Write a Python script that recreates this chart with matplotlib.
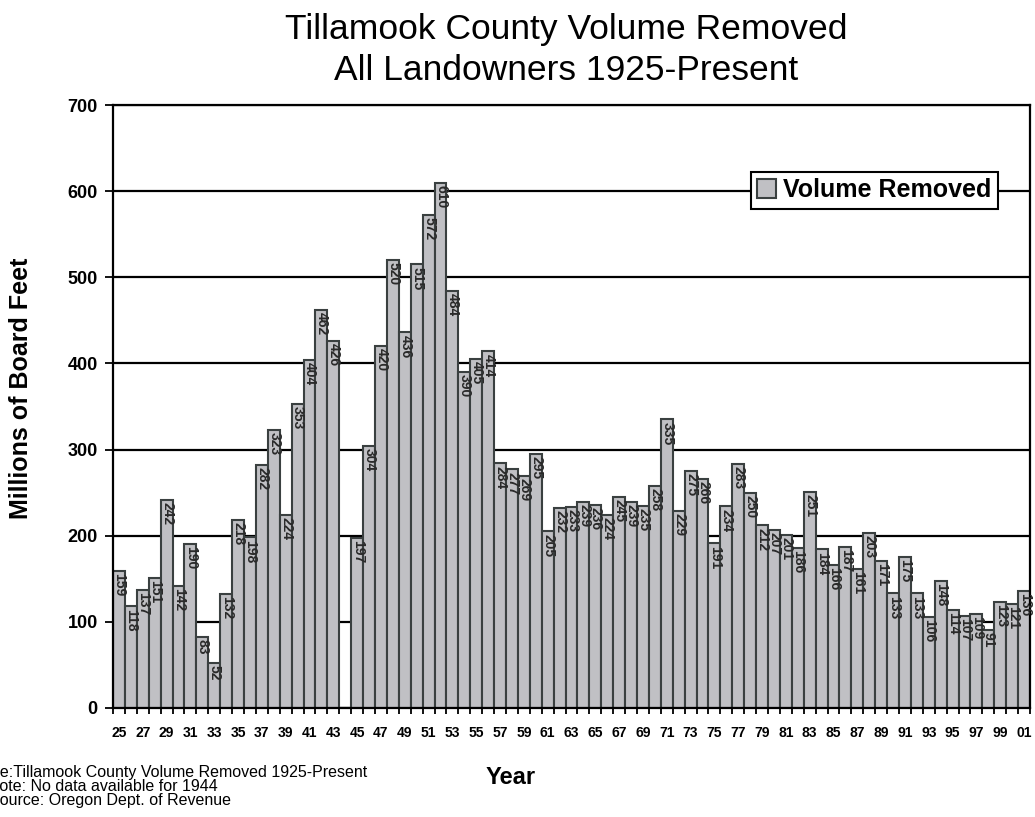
import numpy as np
import matplotlib.pyplot as plt

plt.rcParams['font.family'] = ['Liberation Sans', 'DejaVu Sans']

# timber volume removed, millions of board feet (no data for 1944)
years = list(range(1925, 2002))
volume = [159, 118, 137, 151, 242, 142, 190, 83, 52, 132,
          218, 198, 282, 323, 224, 353, 404, 462, 426, None,
          197, 304, 420, 520, 436, 515, 572, 610, 484, 390,
          405, 414, 284, 277, 269, 295, 205, 232, 233, 239,
          236, 224, 245, 239, 235, 258, 335, 229, 275, 266,
          191, 234, 283, 250, 212, 207, 201, 186, 251, 184,
          166, 187, 161, 203, 171, 133, 175, 133, 106, 148,
          114, 107, 109, 91, 123, 121, 136]
tick_years = years[::2]
notes = ["Title:Tillamook County Volume Removed 1925-Present",
         "Note: No data available for 1944",
         "Source: Oregon Dept. of Revenue"]

W, H = 1035, 817
fig = plt.figure(figsize=(W / 100, H / 100), dpi=100)
ax = fig.add_axes([113 / W, 1 - 708 / H, 917 / W, 603 / H])

x = np.arange(len(years))
vals = [v if v is not None else 0 for v in volume]
ax.bar(x, vals, width=1.0, color='#c0c0c4', edgecolor='#3a4040',
       linewidth=1.5, label='Volume Removed', zorder=2)
for xi, v in zip(x, volume):
    if v is None:
        continue
    ax.text(xi + 0.05, v - 2.5, str(v), rotation=270, ha='center', va='top',
            fontsize=10, fontweight='bold', color='#2a2a2a', zorder=3)

ax.set_xlim(-0.5, len(years) - 0.5)
ax.set_ylim(0, 700)
ax.set_yticks(range(0, 701, 100))
ax.yaxis.grid(True, color='black', linewidth=1.6, zorder=0)
ax.set_axisbelow(True)

ax.set_xticks([years.index(y) for y in tick_years])
ax.set_xticklabels(['%02d' % (y % 100) for y in tick_years])
ax.set_xticks(np.arange(-0.5, len(years), 1.0), minor=True)
ax.tick_params(axis='x', which='major', length=0, pad=13, labelsize=10)
ax.tick_params(axis='x', which='minor', length=4.3, width=1.3)
ax.tick_params(axis='y', length=6, width=1.3, labelsize=13, pad=5)
for lab in ax.get_xticklabels() + ax.get_yticklabels():
    lab.set_fontweight('bold')
for sp in ax.spines.values():
    sp.set_linewidth(1.6)

ax.set_ylabel('Millions of Board Feet', fontsize=18, fontweight='bold',
              va='center', ha='center')
ax.yaxis.set_label_coords((21 - 113) / 917, 0.53)
ax.set_xlabel('Year', fontsize=17, fontweight='bold')
ax.xaxis.set_label_coords((511 - 113) / 917, (708 - 778) / 603)
ax.xaxis.label.set_va('center')

leg = ax.legend(loc='upper right', bbox_to_anchor=((998 - 113) / 917, (708 - 172) / 603),
                prop={'size': 18, 'weight': 'bold'}, frameon=True,
                fancybox=False, framealpha=1, handlelength=0.76, handleheight=0.76,
                handletextpad=0.3, borderpad=0.25, borderaxespad=0)
leg.get_frame().set_edgecolor('black')
leg.get_frame().set_linewidth(1.5)

fig.suptitle('Tillamook County Volume Removed\nAll Landowners 1925-Present',
             x=566 / W, y=1 - 13 / H, va='top', fontsize=25.5, linespacing=1.3)

# footnote lines, anchored just past the left edge
note_x = [-21, -11.5, -10.7]
note_y = [772, 786.5, 801]
for txt, nx, ny in zip(notes, note_x, note_y):
    fig.text(nx / W, 1 - ny / H, txt, ha='left', va='center', fontsize=11.5)

fig.savefig('out.png', dpi=100)
